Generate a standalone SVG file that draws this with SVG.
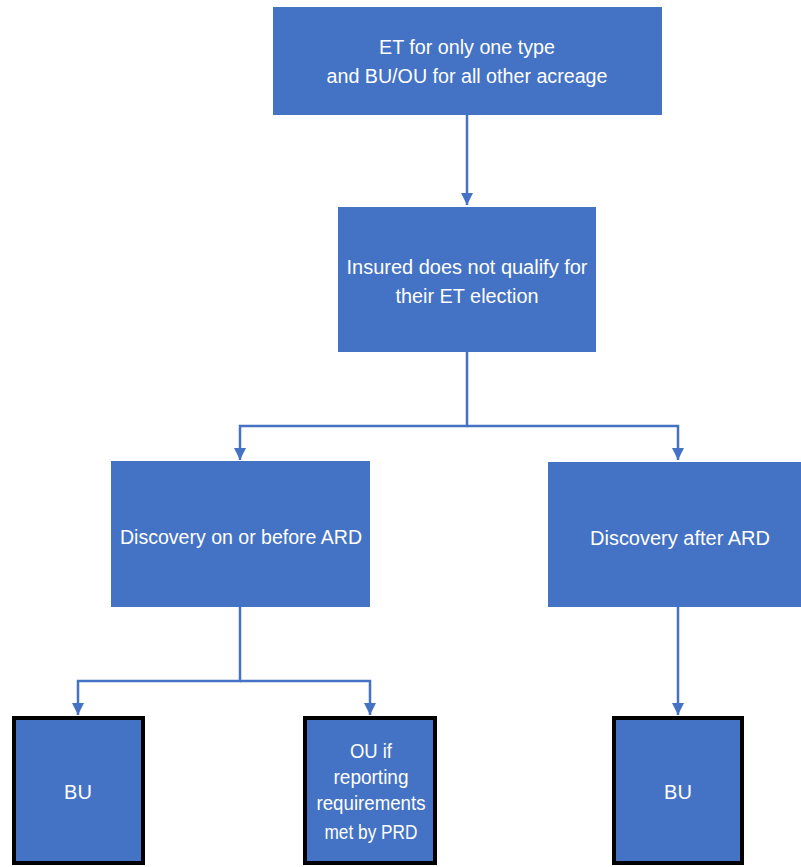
<svg xmlns="http://www.w3.org/2000/svg" width="801" height="867" viewBox="0 0 801 867">
<style>
.box{fill:#4472C4}
.leaf{fill:#4472C4;stroke:#000;stroke-width:4}
.t{fill:#fff;font-family:"Liberation Sans",Arial,sans-serif;font-size:20px;text-anchor:middle}
.c{fill:none;stroke:#4472C4;stroke-width:2.5}
</style>
<defs>
<marker id="ah" viewBox="0 0 10 10" refX="10" refY="5" markerWidth="5" markerHeight="5" markerUnits="strokeWidth" orient="auto">
<path d="M0,0 L10,5 L0,10 z" fill="#4472C4"/>
</marker>
</defs>
<rect width="801" height="867" fill="#fff"/>
<g id="connectors">
<path class="c" d="M467,115 V205" marker-end="url(#ah)"/>
<path class="c" d="M467,352 V426 H240 V460" marker-end="url(#ah)"/>
<path class="c" d="M467,426 H678 V460" marker-end="url(#ah)"/>
<path class="c" d="M240,607 V681 H78 V715" marker-end="url(#ah)"/>
<path class="c" d="M240,681 H370 V715" marker-end="url(#ah)"/>
<path class="c" d="M678,607 V715" marker-end="url(#ah)"/>
</g>
<g id="n1">
<rect class="box" x="273" y="7" width="389" height="108"/>
<text class="t" x="467" y="54" textLength="176" lengthAdjust="spacingAndGlyphs">ET for only one type</text>
<text class="t" x="467" y="83" textLength="281" lengthAdjust="spacingAndGlyphs">and BU/OU for all other acreage</text>
</g>
<g id="n2">
<rect class="box" x="338" y="207" width="258" height="145"/>
<text class="t" x="467" y="274" textLength="241" lengthAdjust="spacingAndGlyphs">Insured does not qualify for</text>
<text class="t" x="467" y="303" textLength="143" lengthAdjust="spacingAndGlyphs">their ET election</text>
</g>
<g id="n3">
<rect class="box" x="111" y="461" width="259" height="146"/>
<text class="t" x="241" y="544" textLength="242" lengthAdjust="spacingAndGlyphs">Discovery on or before ARD</text>
</g>
<g id="n4">
<rect class="box" x="548" y="462" width="253" height="145"/>
<text class="t" x="680" y="545" textLength="180" lengthAdjust="spacingAndGlyphs">Discovery after ARD</text>
</g>
<g id="n5">
<rect class="leaf" x="14" y="718" width="129" height="145"/>
<text class="t" x="78" y="799">BU</text>
</g>
<g id="n6">
<rect class="leaf" x="305" y="718" width="130" height="145"/>
<text class="t" x="371" y="758" textLength="42" lengthAdjust="spacingAndGlyphs">OU if</text>
<text class="t" x="371" y="784" textLength="75" lengthAdjust="spacingAndGlyphs">reporting</text>
<text class="t" x="371" y="810" textLength="109" lengthAdjust="spacingAndGlyphs">requirements</text>
<text class="t" x="371" y="839" textLength="93" lengthAdjust="spacingAndGlyphs">met by PRD</text>
</g>
<g id="n7">
<rect class="leaf" x="614" y="718" width="128" height="145"/>
<text class="t" x="678" y="799">BU</text>
</g>
</svg>
